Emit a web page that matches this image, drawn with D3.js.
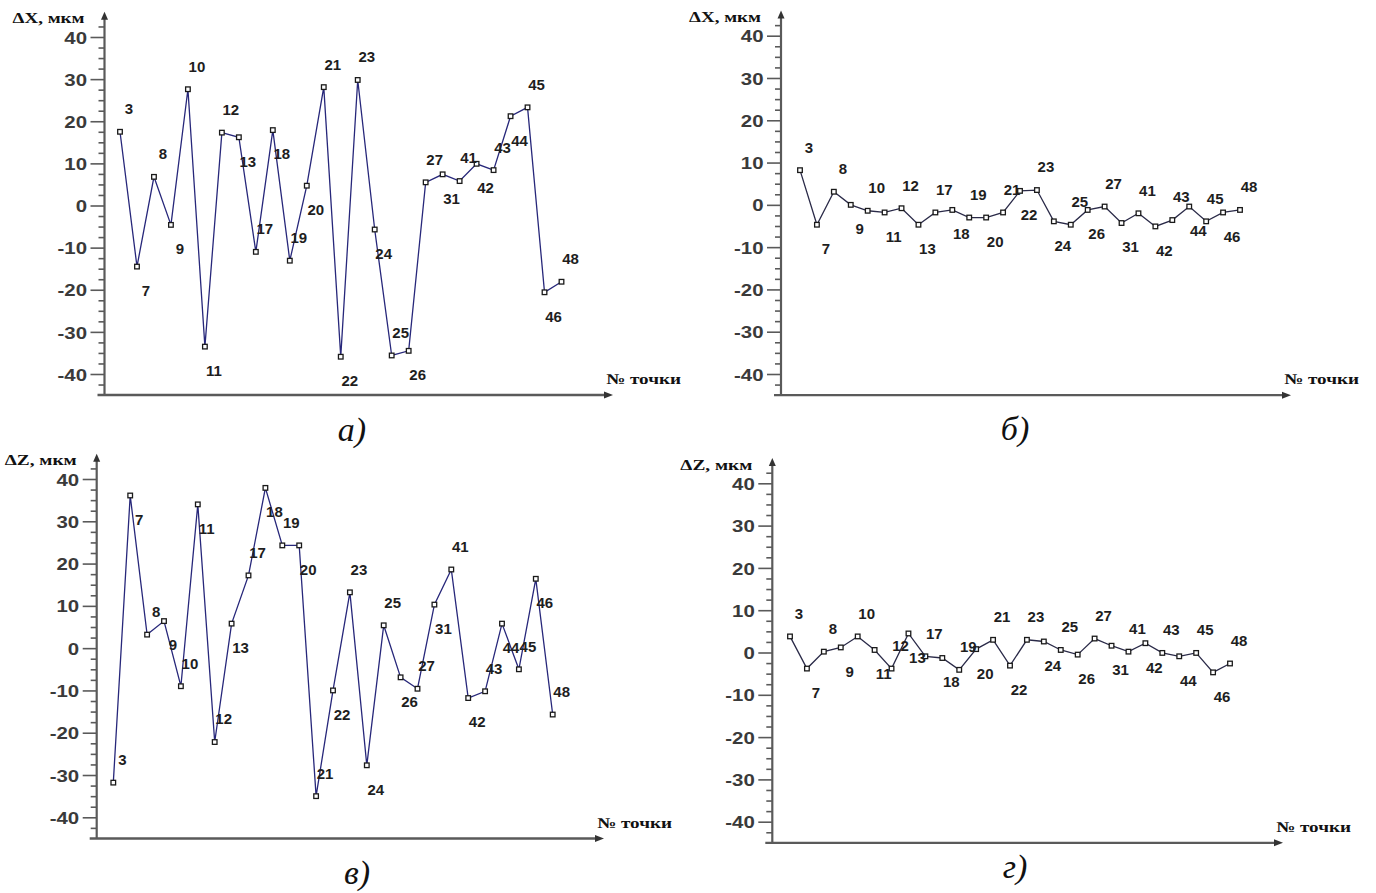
<!DOCTYPE html>
<html>
<head>
<meta charset="utf-8">
<script src="https://cdn.jsdelivr.net/npm/d3@7"></script>
<style>
  html, body { margin: 0; padding: 0; background: #ffffff; }
  svg { display: block; }
</style>
</head>
<body>
<script>
// ---------------- DATA ----------------
const categories = ["3","7","8","9","10","11","12","13","17","18","19","20","21","22","23","24","25","26","27","31","41","42","43","44","45","46","48"];

// а) ΔX before correction
const dxBefore = [17.5, -14.5, 6.8, -4.6, 27.6, -33.5, 17.3, 16.2, -11.0, 17.9, -13.1, 4.7, 28.1, -35.9, 29.8, -5.7, -35.6, -34.5, 5.5, 7.4, 5.8, 9.9, 8.4, 21.2, 23.3, -20.6, -18.1];
// б) ΔX after correction
const dxAfter = [8.2, -4.7, 3.1, 0.0, -1.4, -1.8, -0.8, -4.7, -1.8, -1.2, -3.0, -3.0, -1.8, 3.3, 3.5, -3.9, -4.7, -1.2, -0.4, -4.3, -2.0, -5.1, -3.6, -0.4, -3.9, -1.8, -1.2];
// в) ΔZ before correction
const dzBefore = [-31.8, 36.1, 3.2, 6.4, -9.0, 34.0, -22.2, 5.8, 17.2, 37.9, 24.3, 24.3, -35.0, -10.0, 13.2, -27.7, 5.4, -6.9, -9.6, 10.3, 18.6, -11.8, -10.2, 5.8, -5.0, 16.4, -15.7];
// г) ΔZ after correction
const dzAfter = [3.8, -3.8, 0.2, 1.2, 3.8, 0.6, -3.8, 4.5, -0.9, -1.3, -4.1, 0.8, 3.0, -3.1, 3.0, 2.6, 0.6, -0.5, 3.3, 1.6, 0.2, 2.2, -0.1, -0.9, -0.1, -4.7, -2.6];

const majorTicks = [-40, -30, -20, -10, 0, 10, 20, 30, 40];
const minorTicks = [-42.5, -37.5, -35, -32.5, -27.5, -25, -22.5, -17.5, -15, -12.5, -7.5, -5, -2.5, 2.5, 5, 7.5, 12.5, 15, 17.5, 22.5, 25, 27.5, 32.5, 35, 37.5, 42.5];

const yTitles = ["ΔX, мкм", "ΔX, мкм", "ΔZ, мкм", "ΔZ, мкм"];
const xTitle = "№ точки";
const panelLetters = ["а)", "б)", "в)", "г)"];
const seriesList = [dxBefore, dxAfter, dzBefore, dzAfter];

// ---------------- LAYOUT ----------------
const layout = [
  { axisX: 104.5, y40: 37.0,  yM40: 374.0, first: 120.0, last: 561.5, xEnd: 612,  letterX: 352,  letterY: 441, line: "#27277a" },
  { axisX: 781.0, y40: 35.7,  yM40: 374.0, first: 800.0, last: 1240.0, xEnd: 1290, letterX: 1015, letterY: 440, line: "#2a2a48" },
  { axisX: 96.7,  y40: 479.0, yM40: 817.3, first: 113.3, last: 552.7, xEnd: 603,  letterX: 357,  letterY: 884, line: "#27277a" },
  { axisX: 772.3, y40: 483.3, yM40: 821.7, first: 790.0, last: 1230.0, xEnd: 1282, letterX: 1015, letterY: 878, line: "#2a2a48" }
];

const svg = d3.select("body").append("svg")
  .attr("width", 1376).attr("height", 893)
  .style("background", "#ffffff");

const axisColor = "#5a5a5a";

seriesList.forEach((values, pi) => {
  const L = layout[pi];
  const y = d3.scaleLinear().domain([-40, 40]).range([L.yM40, L.y40]);
  const x = d3.scalePoint().domain(categories).range([L.first, L.last]);
  const g = svg.append("g");
  const baseY = y(-45);

  // minor ticks
  const minor = g.append("g").attr("transform", `translate(${L.axisX},0)`)
    .call(d3.axisLeft(y).tickValues(minorTicks).tickSize(6).tickFormat(""));
  minor.select(".domain").remove();
  minor.selectAll(".tick line").attr("stroke", axisColor).attr("stroke-width", 1.6);

  // major ticks with labels
  const major = g.append("g").attr("transform", `translate(${L.axisX},0)`)
    .call(d3.axisLeft(y).tickValues(majorTicks).tickSize(14).tickFormat(d => String(d)));
  major.select(".domain").remove();
  major.selectAll(".tick line").attr("stroke", axisColor).attr("stroke-width", 1.6);
  major.selectAll(".tick text")
    .attr("x", -14.6)
    .attr("dy", "0.36em")
    .attr("transform", "scale(1.2,1)")
    .attr("fill", "#3a3a3a")
    .attr("font-family", "'Liberation Sans', Arial, sans-serif")
    .attr("font-weight", "bold")
    .attr("font-size", 17);

  // y axis line with arrow
  const topY = y(45.5);
  g.append("line")
    .attr("x1", L.axisX).attr("x2", L.axisX)
    .attr("y1", baseY).attr("y2", topY + 2)
    .attr("stroke", axisColor).attr("stroke-width", 2.2);
  g.append("path")
    .attr("d", `M${L.axisX},${topY - 2} L${L.axisX - 3.5},${topY + 6} L${L.axisX + 3.5},${topY + 6} Z`)
    .attr("fill", "#333");

  // x axis line with arrow
  g.append("line")
    .attr("x1", L.axisX - 7).attr("x2", L.xEnd - 4)
    .attr("y1", baseY).attr("y2", baseY)
    .attr("stroke", axisColor).attr("stroke-width", 2.4);
  g.append("path")
    .attr("d", `M${L.xEnd + 1},${baseY} L${L.xEnd - 8},${baseY - 3.5} L${L.xEnd - 8},${baseY + 3.5} Z`)
    .attr("fill", "#333");

  // axis titles
  g.append("text")
    .attr("x", L.axisX - 92).attr("y", y(40) - 19)
    .attr("dy", "0.35em")
    .attr("textLength", 72).attr("lengthAdjust", "spacingAndGlyphs")
    .attr("font-family", "'Liberation Serif', 'Times New Roman', serif")
    .attr("font-weight", "bold").attr("font-size", 15)
    .attr("fill", "#111")
    .text(yTitles[pi]);
  g.append("text")
    .attr("x", L.xEnd - 6).attr("y", baseY - 16)
    .attr("dy", "0.35em")
    .attr("textLength", 75).attr("lengthAdjust", "spacingAndGlyphs")
    .attr("font-family", "'Liberation Serif', 'Times New Roman', serif")
    .attr("font-weight", "bold").attr("font-size", 15)
    .attr("fill", "#111")
    .text(xTitle);

  // data line
  const pts = categories.map((c, i) => ({ c, v: values[i], i }));
  g.append("path")
    .datum(pts)
    .attr("fill", "none")
    .attr("stroke", L.line)
    .attr("stroke-width", 1.3)
    .attr("d", d3.line().x(d => x(d.c)).y(d => y(d.v)));

  // markers
  g.selectAll("rect.mk").data(pts).join("rect")
    .attr("class", "mk")
    .attr("x", d => x(d.c) - 2.3).attr("y", d => y(d.v) - 2.3)
    .attr("width", 4.6).attr("height", 4.6)
    .attr("fill", "#ffffff").attr("stroke", "#1a1a1a").attr("stroke-width", 1.3);

  // point labels (alternating above / below)
  g.selectAll("text.lbl").data(pts).join("text")
    .attr("class", "lbl")
    .attr("x", d => x(d.c) + 9)
    .attr("y", d => y(d.v) + (d.i % 2 === 0 ? -23 : 24))
    .attr("dy", "0.36em")
    .attr("text-anchor", "middle")
    .attr("font-family", "'Liberation Sans', Arial, sans-serif")
    .attr("font-weight", "bold").attr("font-size", 15)
    .attr("fill", "#1e1e1e")
    .text(d => d.c);

  // panel letter
  g.append("text")
    .attr("x", L.letterX).attr("y", L.letterY)
    .attr("text-anchor", "middle")
    .attr("font-family", "'Liberation Serif', 'Times New Roman', serif")
    .attr("font-style", "italic").attr("font-size", 34)
    .attr("fill", "#111")
    .text(panelLetters[pi]);
});
</script>
</body>
</html>
